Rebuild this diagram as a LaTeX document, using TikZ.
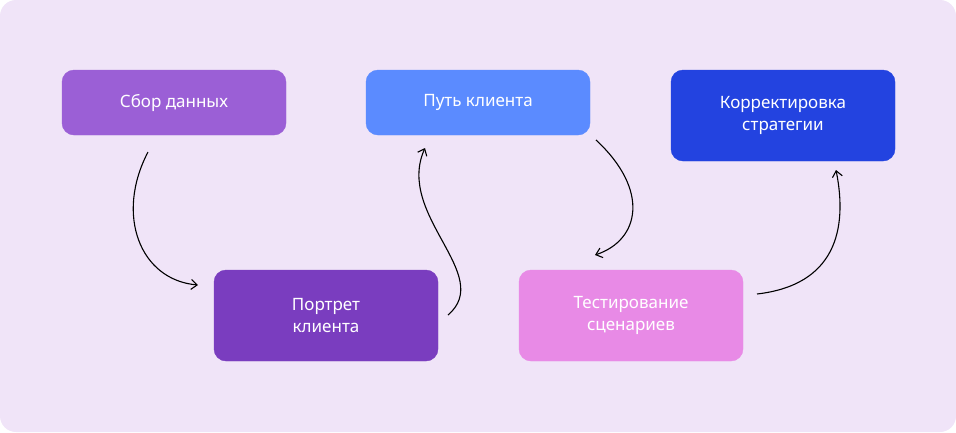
\documentclass[tikz,border=0pt]{standalone}
\usepackage{fontspec}
\setmainfont{Noto Sans}
\usetikzlibrary{arrows.meta, positioning}
\definecolor{bg_lilac}{RGB}{240, 228, 248}
\definecolor{soft_violet}{RGB}{155, 95, 214}
\definecolor{deep_violet}{RGB}{122, 61, 191}
\definecolor{sky_blue}{RGB}{91, 139, 255}
\definecolor{royal_blue}{RGB}{35, 67, 224}
\definecolor{orchid}{RGB}{232, 138, 230}

\begin{document}
\begin{tikzpicture}[
    x=1pt, y=-1pt,
    stepbox/.style={
        rectangle,
        draw=#1,
        fill=#1,
        minimum width=224pt,
        minimum height=65pt,
        text=white,
        align=center,
        rounded corners=12pt,
        font=\fontsize{17}{22}\selectfont
    },
    tallbox/.style={
        stepbox=#1,
        minimum height=91pt
    },
    curve/.style={
        -{Straight Barb[length=6pt,width=10pt]},
        line width=1.1pt,
        black
    }
]

% Background
\fill[bg_lilac, rounded corners=16pt] (0,0) rectangle (956,432);

% Top row
\node[stepbox=soft_violet] (sbor) at (174,102.5) {Сбор данных};
\node[stepbox=sky_blue] (put) at (478,102.5) {Путь клиента};
\node[tallbox=royal_blue] (korr) at (783,115.5) {Корректировка\\стратегии};

% Bottom row
\node[tallbox=deep_violet] (portret) at (326,315.5) {Портрет\\клиента};
\node[tallbox=orchid] (test) at (631,315.5) {Тестирование\\сценариев};

% Connector ends
\coordinate (a1) at (148,152);
\coordinate (b1) at (198,285);
\coordinate (a2) at (448,315);
\coordinate (b2) at (425,148);
\coordinate (a3) at (596,140);
\coordinate (b3) at (595,255);
\coordinate (a4) at (757,294);
\coordinate (b4) at (836,170);

% Curved arrows
\draw[curve] (a1) .. controls (115,215) and (140,280) .. (b1);
\draw[curve] (a2) .. controls (495,275) and (395,215) .. (b2);
\draw[curve] (a3) .. controls (650,190) and (640,240) .. (b3);
\draw[curve] (a4) .. controls (835,285) and (848,230) .. (b4);

\end{tikzpicture}
\end{document}
